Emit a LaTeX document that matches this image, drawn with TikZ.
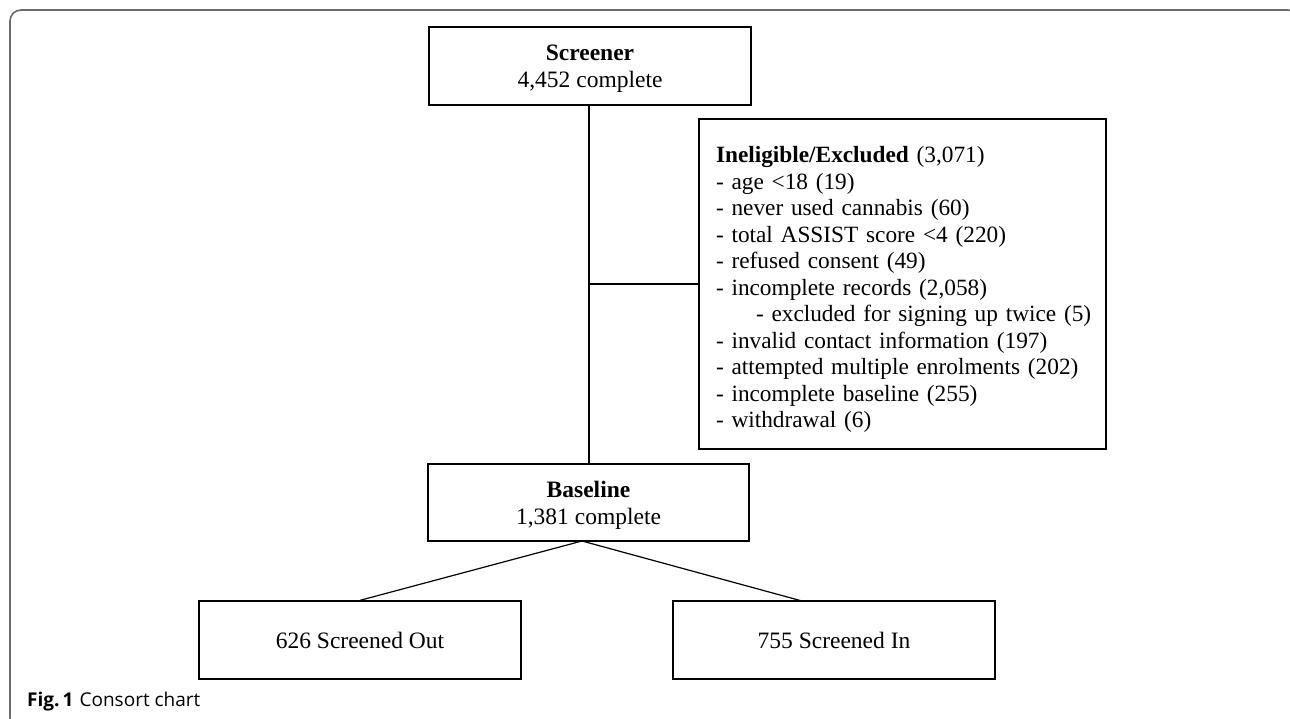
\documentclass[tikz,border=0pt]{standalone}
\usepackage{fontspec}
\setmainfont{Liberation Serif}
\newfontfamily\capfont{Open Sans}
\begin{document}
\begin{tikzpicture}[x=1pt,y=-1pt,
  box/.style={draw=black,line width=1.3pt,minimum width=322pt,minimum height=78pt,inner sep=0pt,align=center,font=\fontsize{23.5}{27}\selectfont},
  conn/.style={draw=black,line width=1.2pt},
  frame/.style={draw=black!58,line width=1.6pt,rounded corners=11pt}]
\useasboundingbox (0,0) rectangle (1290,719);
\begin{scope}
\clip (0,0) rectangle (1290,719);
\draw[frame] (10,10) rectangle (1299,729);
\end{scope}
\node[box] (scr) at (590,66) {\rule{0pt}{22pt}\textbf{Screener}\\4,452 complete};
\node[box,minimum width=407pt,minimum height=330pt,text width=373pt,inner xsep=17pt,align=left,font=\fontsize{23.3}{26.5}\selectfont] (inel) at (902.5,284) {\rule{0pt}{27pt}\textbf{Ineligible/Excluded} (3,071)\\
- age <18 (19)\\
- never used cannabis (60)\\
- total ASSIST score <4 (220)\\
- refused consent (49)\\
- incomplete records (2,058)\\
\mbox{\hspace*{40pt}- excluded for signing up twice (5)}\\
- invalid contact information (197)\\
- attempted multiple enrolments (202)\\
- incomplete baseline (255)\\
- withdrawal (6)};
\node[box,minimum width=321pt,minimum height=77pt] (base) at (588.5,502.5) {\rule{0pt}{22pt}\textbf{Baseline}\\1,381 complete};
\node[box] (out) at (360,640) {626 Screened Out};
\node[box] (in) at (834,640) {755 Screened In};
\coordinate (jn) at (589,284);
\coordinate (bt) at (582,541);
\coordinate (it) at (802,601);
\draw[conn] (scr.south -| jn) -- (base.north -| jn);
\draw[conn] (jn) -- (inel.west);
\draw[conn] (bt) -- (out.north);
\draw[conn] (bt) -- (it);
\node[anchor=base west,inner sep=0pt,font=\capfont\fontsize{19}{22}\selectfont] (cap) at (27,706.5) {\textbf{Fig.\,1}\hspace{6pt}Consort chart};
\end{tikzpicture}
\end{document}
